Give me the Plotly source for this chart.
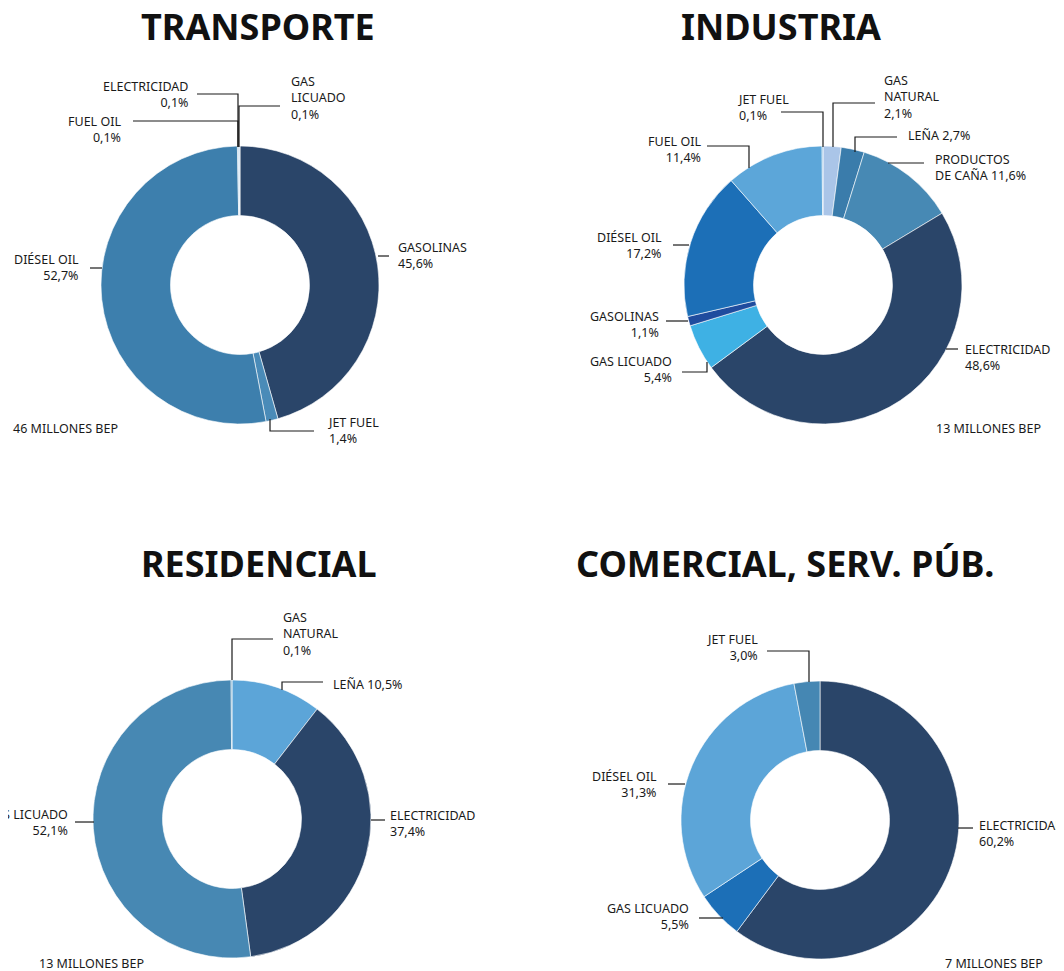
import plotly.graph_objects as go

# la pagina deja 8px de margen en el body: el lienzo se corre 8px
OFF = 8
W, H = 1064 - OFF, 971 - OFF

# ---------------- data ----------------
titles = ['TRANSPORTE', 'INDUSTRIA', 'RESIDENCIAL', 'COMERCIAL, SERV. PÚB.']
totales = ['46 MILLONES BEP', '13 MILLONES BEP', '13 MILLONES BEP', '7 MILLONES BEP']

transporte_labels = ['GASOLINAS', 'JET FUEL', 'DIÉSEL OIL', 'FUEL OIL', 'ELECTRICIDAD', 'GAS LICUADO']
transporte_values = [45.6, 1.4, 52.7, 0.1, 0.1, 0.1]

industria_labels = ['GAS NATURAL', 'LEÑA', 'PRODUCTOS DE CAÑA', 'ELECTRICIDAD', 'GAS LICUADO',
                    'GASOLINAS', 'DIÉSEL OIL', 'FUEL OIL', 'JET FUEL']
industria_values = [2.1, 2.7, 11.6, 48.6, 5.4, 1.1, 17.2, 11.4, 0.1]

residencial_labels = ['LEÑA', 'ELECTRICIDAD', 'GAS LICUADO', 'GAS NATURAL']
residencial_values = [10.5, 37.4, 52.1, 0.1]

comercial_labels = ['ELECTRICIDAD', 'GAS LICUADO', 'DIÉSEL OIL', 'JET FUEL']
comercial_values = [60.2, 5.5, 31.3, 3.0]

# colores por energético
NAVY = '#2a4569'
transporte_colors = [NAVY, '#4a8bb8', '#3d7fad', '#3d7fad', '#5ca5d8', '#a9c4e6']
industria_colors = ['#aac5e8', '#3a7cab', '#4789b4', NAVY, '#3eb1e4', '#1f4c9e', '#1c6fb7', '#5ca6d9', '#5ca6d9']
residencial_colors = ['#5ca5d8', NAVY, '#4788b3', '#4788b3']
comercial_colors = [NAVY, '#1c6fb7', '#5ca5d8', '#4587b3']


def pct(v):
    return f'{v:.1f}'.replace('.', ',') + '%'


# etiquetas: formato, posicion del texto (px de la imagen), anclaje, linea guia (px)
transporte_lbl = {
    'GASOLINAS': ('GASOLINAS<br>{p}', 396, 255, 'left', [(378, 256), (389, 256)]),
    'JET FUEL': ('JET FUEL<br>{p}', 326, 431, 'left', [(270, 419), (270, 431), (314, 431)]),
    'DIÉSEL OIL': ('DIÉSEL OIL<br>{p}', 81, 267, 'right', [(102, 268), (90, 268)]),
    'FUEL OIL': ('FUEL OIL<br>{p}', 123, 130, 'right', [(238, 147), (238, 121), (133, 121)]),
    'ELECTRICIDAD': ('ELECTRICIDAD<br>{p}', 190, 94, 'right', [(238, 147), (238, 94), (197, 94)]),
    'GAS LICUADO': ('GAS<br>LICUADO<br>{p}', 289, 98, 'left', [(239, 147), (239, 106), (280, 106)]),
}
industria_lbl = {
    'GAS NATURAL': ('GAS<br>NATURAL<br>{p}', 882, 97, 'left', [(833, 147), (833, 103), (875, 103)]),
    'LEÑA': ('LEÑA {p}', 906, 136, 'left', [(855, 152), (855, 137), (897, 137)]),
    'PRODUCTOS DE CAÑA': ('PRODUCTOS<br>DE CAÑA {p}', 933, 168, 'left', [(888, 163), (924, 163)]),
    'ELECTRICIDAD': ('ELECTRICIDAD<br>{p}', 963, 358, 'left', [(946, 349), (958, 349)]),
    'GAS LICUADO': ('GAS LICUADO<br>{p}', 674, 370, 'right', [(707, 362), (707, 372), (682, 372)]),
    'GASOLINAS': ('GASOLINAS<br>{p}', 661, 324, 'right', [(688, 321), (666, 321)]),
    'DIÉSEL OIL': ('DIÉSEL OIL<br>{p}', 664, 245, 'right', [(689, 245), (673, 245)]),
    'FUEL OIL': ('FUEL OIL<br>{p}', 703, 150, 'right', [(749, 168), (749, 146), (707, 146)]),
    'JET FUEL': ('JET FUEL<br>{p}', 736, 108, 'left', [(823, 147), (823, 112), (781, 112)]),
}
residencial_lbl = {
    'GAS NATURAL': ('GAS<br>NATURAL<br>{p}', 281, 634, 'left', [(232, 680), (232, 639), (273, 639)]),
    'LEÑA': ('LEÑA {p}', 331, 684, 'left', [(282, 690), (282, 682), (323, 682)]),
    'ELECTRICIDAD': ('ELECTRICIDAD<br>{p}', 388, 823, 'left', [(371, 820), (385, 820)]),
    'GAS LICUADO': ('GAS LICUADO<br>{p}', 70, 822, 'right', [(94, 822), (75, 822)]),
}
comercial_lbl = {
    'ELECTRICIDAD': ('ELECTRICIDAD<br>{p}', 977, 833, 'left', [(958, 828), (973, 828)]),
    'GAS LICUADO': ('GAS LICUADO<br>{p}', 691, 916, 'right', [(723, 918), (699, 918)]),
    'DIÉSEL OIL': ('DIÉSEL OIL<br>{p}', 659, 784, 'right', [(685, 784), (668, 784)]),
    'JET FUEL': ('JET FUEL<br>{p}', 760, 647, 'right', [(809, 682), (809, 651), (767, 651)]),
}

charts = [
    dict(labels=transporte_labels, values=transporte_values, colors=transporte_colors, lbl=transporte_lbl,
         cx=240, cy=285, r=139, title_xy=(258, 26), total_xy=(11, 428, 'left')),
    dict(labels=industria_labels, values=industria_values, colors=industria_colors, lbl=industria_lbl,
         cx=823, cy=285, r=139, title_xy=(781, 26), total_xy=(1043, 428, 'right')),
    dict(labels=residencial_labels, values=residencial_values, colors=residencial_colors, lbl=residencial_lbl,
         cx=232, cy=819, r=139, title_xy=(259, 563), total_xy=(37, 963, 'left')),
    dict(labels=comercial_labels, values=comercial_values, colors=comercial_colors, lbl=comercial_lbl,
         cx=820, cy=820, r=139, title_xy=(785, 563), total_xy=(1045, 963, 'right')),
]


def px(x, y):
    return (x - OFF) / W, 1 - (y - OFF) / H


FONT = 'Noto Sans'
fig = go.Figure()
annotations = []
shapes = []

for ch, title, total in zip(charts, titles, totales):
    cx, cy, r = ch['cx'], ch['cy'], ch['r']
    x0, y1 = px(cx - r, cy - r)
    x1, y0 = px(cx + r, cy + r)
    fig.add_trace(go.Pie(
        labels=ch['labels'], values=ch['values'],
        marker=dict(colors=ch['colors'], line=dict(color='white', width=0.6)),
        hole=0.5, sort=False, direction='clockwise', rotation=0,
        textinfo='none', hoverinfo='label+percent',
        domain=dict(x=[x0, x1], y=[y0, y1]),
        showlegend=False,
    ))

    for name, v in zip(ch['labels'], ch['values']):
        fmt, tx, ty, anchor, path = ch['lbl'][name]
        x, y = px(tx, ty)
        annotations.append(dict(
            text=fmt.format(p=pct(v)), x=x, y=y, xref='paper', yref='paper',
            xanchor=anchor, yanchor='middle', align=anchor, showarrow=False,
            font=dict(family=FONT, size=12.5, color='#1a1a1a'),
        ))
        pts = [px(a, b) for a, b in path]
        d = 'M ' + ' L '.join(f'{a:.5f},{b:.5f}' for a, b in pts)
        shapes.append(dict(type='path', path=d, xref='paper', yref='paper',
                           line=dict(color='#1a1a1a', width=1.2)))

    tx, ty = px(*ch['title_xy'])
    annotations.append(dict(
        text=title, x=tx, y=ty, xref='paper', yref='paper', xanchor='center', yanchor='middle',
        showarrow=False, font=dict(family=FONT, size=36, color='#111111', weight='bold'),
    ))
    bx, by, banchor = ch['total_xy']
    bx, by = px(bx, by)
    annotations.append(dict(
        text=total, x=bx, y=by, xref='paper', yref='paper', xanchor=banchor, yanchor='middle',
        showarrow=False, font=dict(family=FONT, size=12.5, color='#1a1a1a'),
    ))

fig.update_layout(
    width=W, height=H,
    margin=dict(l=0, r=0, t=0, b=0),
    paper_bgcolor='white', plot_bgcolor='white',
    annotations=annotations, shapes=shapes,
)

fig.write_html('out.html')
